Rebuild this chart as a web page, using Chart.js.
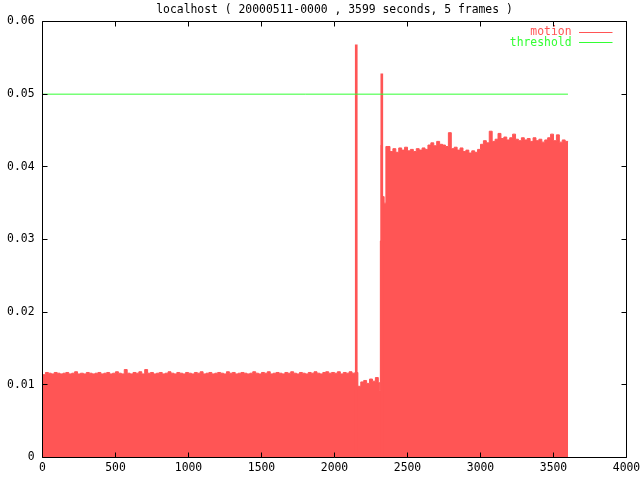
<!DOCTYPE html>
<html>
<head>
<meta charset="utf-8">
<title>motion</title>
<script src="https://cdn.jsdelivr.net/npm/chart.js@4.4.1/dist/chart.umd.min.js"></script>
<style>
  html, body { margin: 0; padding: 0; background: #fff; }
  canvas { display: block; }
</style>
</head>
<body>
<canvas id="grafico" width="640" height="480"></canvas>
<script>
const titulo = 'localhost ( 20000511-0000 , 3599 seconds, 5 frames )';
const xTicks = [0, 500, 1000, 1500, 2000, 2500, 3000, 3500, 4000];
const yTicks = ['0', '0.01', '0.02', '0.03', '0.04', '0.05', '0.06'];

// motion, un valor cada 20 s
const paso = 20;
const lowStart = 0;
const motionLow = [
  0.0114, 0.0117, 0.0116, 0.0115, 0.0117, 0.0116, 0.0115, 0.0116, 0.0117, 0.0115,
  0.0116, 0.0118, 0.0115, 0.0116, 0.0115, 0.0117, 0.0116, 0.0115, 0.0116, 0.0117,
  0.0115, 0.0116, 0.0117, 0.0115, 0.0116, 0.0118, 0.0116, 0.0115, 0.0121, 0.0116,
  0.0115, 0.0117, 0.0116, 0.0118, 0.0115, 0.0121, 0.0116, 0.0117, 0.0115, 0.0116,
  0.0117, 0.0115, 0.0116, 0.0118, 0.0116, 0.0115, 0.0117, 0.0116, 0.0115, 0.0117,
  0.0116, 0.0115, 0.0117, 0.0116, 0.0118, 0.0115, 0.0116, 0.0117, 0.0115, 0.0116,
  0.0117, 0.0116, 0.0115, 0.0118, 0.0116, 0.0117, 0.0115, 0.0116, 0.0117, 0.0116,
  0.0115, 0.0116, 0.0118, 0.0116, 0.0115, 0.0117, 0.0116, 0.0118, 0.0115, 0.0116,
  0.0117, 0.0116, 0.0115, 0.0117, 0.0116, 0.0118, 0.0116, 0.0115, 0.0117, 0.0116,
  0.0115, 0.0117, 0.0116, 0.0118, 0.0116, 0.0115, 0.0117, 0.0118, 0.0116, 0.0117,
  0.0116, 0.0118, 0.0115, 0.0117, 0.0116, 0.0118, 0.0116, 0.0117
];
const dipStart = 2160;
const motionDip = [0.0098, 0.0104, 0.0106, 0.0102, 0.0108, 0.0105, 0.0110, 0.0103];
const jumpTimes = [2310, 2314, 2319, 2328, 2340, 2352];
const jumpValues = [0.0092, 0.0298, 0.0430, 0.0359, 0.0350, 0.0428];
const highStart = 2360;
const motionHigh = [
  0.0428, 0.0421, 0.0425, 0.0420, 0.0426, 0.0423, 0.0427, 0.0422, 0.0424, 0.0421,
  0.0425, 0.0423, 0.0426, 0.0424, 0.0430, 0.0433, 0.0429, 0.0435, 0.0431, 0.0430,
  0.0428, 0.0447, 0.0425, 0.0427, 0.0423, 0.0426, 0.0421, 0.0423, 0.0419, 0.0422,
  0.0420, 0.0424, 0.0431, 0.0436, 0.0433, 0.0449, 0.0435, 0.0438, 0.0446, 0.0439,
  0.0441, 0.0437, 0.0440, 0.0445, 0.0438, 0.0436, 0.0440, 0.0437, 0.0439, 0.0435,
  0.0440, 0.0436, 0.0438, 0.0434, 0.0437, 0.0440, 0.0445, 0.0436, 0.0444, 0.0434,
  0.0437, 0.0435
];
const motionEnd = 3600;

const spikeTimes = [2149, 2324];
const spikeValues = [0.0568, 0.0528];

const thresholdTimes = [0, 3599];
const thresholdValues = [0.05, 0.05];

const legendLabels = ['motion', 'threshold'];
const colores = ['#ff5555', '#33ff33'];

const motion = [];
motionLow.forEach((v, i) => motion.push({ x: lowStart + i * paso, y: v }));
motionDip.forEach((v, i) => motion.push({ x: dipStart + i * paso, y: v }));
jumpTimes.forEach((t, i) => motion.push({ x: t, y: jumpValues[i] }));
motionHigh.forEach((v, i) => motion.push({ x: highStart + i * paso, y: v }));
motion.push({ x: motionEnd, y: motionHigh[motionHigh.length - 1] });

const spikes = spikeTimes.map((t, i) => ({ x: t, y: spikeValues[i] }));
const threshold = thresholdTimes.map((t, i) => ({ x: t, y: thresholdValues[i] }));

const fuente = '"DejaVu Sans Mono", monospace';
Chart.defaults.font.family = fuente;
Chart.defaults.font.size = 11.4;
Chart.defaults.color = '#000';

// marco estilo gnuplot, ticks hacia dentro, titulo y leyenda dentro del area
const marco = {
  id: 'marco',
  afterDraw(chart) {
    const { ctx, chartArea: a, scales } = chart;
    ctx.save();
    ctx.strokeStyle = '#000';
    ctx.lineWidth = 1;
    ctx.beginPath();
    xTicks.forEach(v => {
      const px = Math.floor(scales.x.getPixelForValue(v)) + 0.5;
      ctx.moveTo(px, a.bottom); ctx.lineTo(px, a.bottom - 5);
      ctx.moveTo(px, a.top); ctx.lineTo(px, a.top + 5);
    });
    yTicks.forEach((t, i) => {
      const py = Math.floor(scales.y.getPixelForValue(i * 0.01)) + 0.5;
      ctx.moveTo(a.left, py); ctx.lineTo(a.left + 5, py);
      ctx.moveTo(a.right, py); ctx.lineTo(a.right - 5, py);
    });
    ctx.rect(a.left, a.top, a.right - a.left, a.bottom - a.top);
    ctx.stroke();

    ctx.font = '11.4px ' + fuente;
    ctx.fillStyle = '#000';
    ctx.textAlign = 'center';
    ctx.textBaseline = 'middle';
    ctx.fillText(titulo, (a.left + a.right) / 2, 10.5);

    ctx.textAlign = 'right';
    legendLabels.forEach((l, i) => {
      const y = a.top + 10.5 + i * 10.6;
      ctx.fillStyle = colores[i];
      ctx.fillText(l, a.right - 55, y);
      ctx.strokeStyle = colores[i];
      ctx.beginPath();
      ctx.moveTo(a.right - 47.5, Math.floor(y) + 0.5);
      ctx.lineTo(a.right - 14, Math.floor(y) + 0.5);
      ctx.stroke();
    });
    ctx.restore();
  }
};

new Chart(document.getElementById('grafico'), {
  type: 'line',
  data: {
    datasets: [
      {
        label: legendLabels[1],
        data: threshold,
        borderColor: colores[1],
        borderWidth: 1,
        pointRadius: 0,
        fill: false,
        order: 0
      },
      {
        type: 'bar',
        label: 'spikes',
        data: spikes,
        backgroundColor: colores[0],
        barThickness: 2,
        grouped: false,
        order: 1
      },
      {
        label: legendLabels[0],
        data: motion,
        stepped: true,
        borderColor: colores[0],
        backgroundColor: colores[0],
        borderWidth: 1,
        pointRadius: 0,
        fill: 'origin',
        order: 2
      }
    ]
  },
  options: {
    responsive: false,
    animation: false,
    layout: { padding: { top: 21.5, right: 13.5, left: 0, bottom: 0 } },
    scales: {
      x: {
        type: 'linear',
        offset: false,
        min: 0,
        max: 4000,
        grid: { display: false, drawTicks: false },
        border: { display: false },
        ticks: { stepSize: 500, padding: 4, maxRotation: 0, callback: v => String(v) },
        afterFit: s => { s.height = 22.5; s.paddingRight = 0; s.paddingLeft = 0; }
      },
      y: {
        min: 0,
        max: 0.06,
        grid: { display: false, drawTicks: false },
        border: { display: false },
        ticks: {
          stepSize: 0.01,
          padding: 8,
          callback: (v, i) => yTicks[i]
        },
        afterFit: s => { s.width = 42.5; }
      }
    },
    plugins: {
      legend: { display: false },
      title: { display: false },
      tooltip: { enabled: false }
    }
  },
  plugins: [marco]
});
</script>
</body>
</html>
